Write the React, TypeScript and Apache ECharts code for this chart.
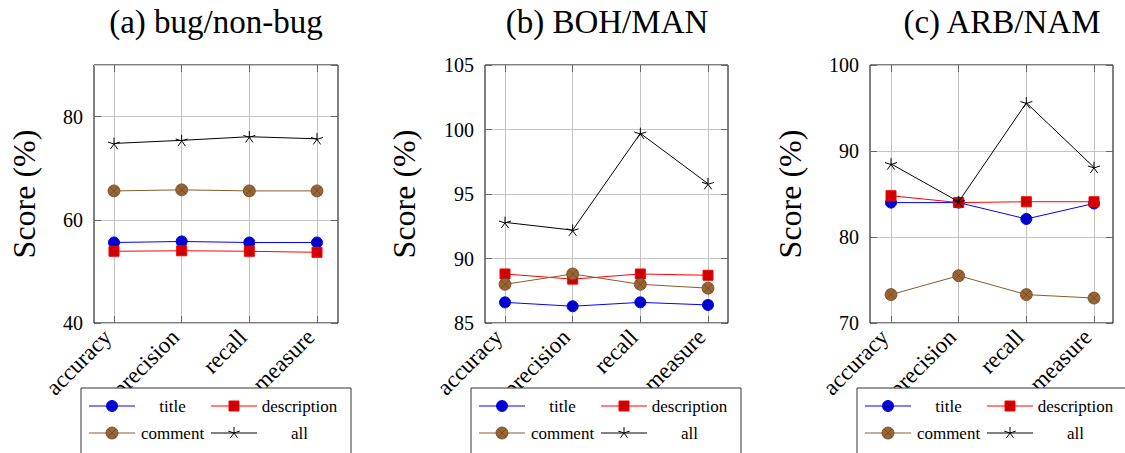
import { useEffect, useRef } from 'react';
import * as echarts from 'echarts';

// Shared categories and series names
const categories = ['accuracy', 'precision', 'recall', 'F-measure'];
const seriesNames = ['title', 'description', 'comment', 'all'];
const panelTitles = ['(a) bug/non-bug', '(b) BOH/MAN', '(c) ARB/NAM'];
const yAxisName = 'Score (%)';

// (a) bug/non-bug
const bugTitle = [55.6, 55.8, 55.6, 55.6];
const bugDescription = [53.9, 54.0, 53.9, 53.7];
const bugComment = [65.6, 65.8, 65.6, 65.6];
const bugAll = [74.8, 75.4, 76.1, 75.7];

// (b) BOH/MAN
const bohTitle = [86.6, 86.3, 86.6, 86.4];
const bohDescription = [88.8, 88.4, 88.8, 88.7];
const bohComment = [88.0, 88.8, 88.0, 87.7];
const bohAll = [92.8, 92.2, 99.7, 95.8];

// (c) ARB/NAM
const arbTitle = [84.0, 84.0, 82.1, 83.9];
const arbDescription = [84.8, 84.0, 84.1, 84.1];
const arbComment = [73.3, 75.5, 73.3, 72.9];
const arbAll = [88.5, 84.1, 95.6, 88.1];

// Y axis ranges per panel
const yMins = [40, 85, 70];
const yMaxs = [90, 105, 100];
const yIntervals = [20, 5, 10];

const panelData = [
  [bugTitle, bugDescription, bugComment, bugAll],
  [bohTitle, bohDescription, bohComment, bohAll],
  [arbTitle, arbDescription, arbComment, arbAll],
];

// ---- layout and styling ----
const FONT = 'Liberation Serif, serif';
const GRID_COLOR = '#c4c4c4';
const TICK_COLOR = '#666';
const TOP = 65;
const HEIGHT = 258;

const frames = [
  { left: 94, width: 244, catLeft: 114, catWidth: 203, titleX: 216, nameX: 24, legendX: 81 },
  { left: 485, width: 243, catLeft: 505, catWidth: 203, titleX: 607, nameX: 404, legendX: 471 },
  { left: 870, width: 243, catLeft: 891, catWidth: 203, titleX: 1002, nameX: 790, legendX: 857 },
];

const OTIMES =
  'path://M10,0A10,10,0,1,1,10,20A10,10,0,1,1,10,0ZM2.93,2.93L17.07,17.07M17.07,2.93L2.93,17.07';
const STAR =
  'path://M0,-10L0,0M9.51,-3.09L0,0M5.88,8.09L0,0M-5.88,8.09L0,0M-9.51,-3.09L0,0';

const seriesStyles = [
  { line: '#0000ff', fill: '#0000cc', border: '#0000ff', symbol: 'circle', size: 11 },
  { line: '#ff0000', fill: '#cc0000', border: '#ff0000', symbol: 'rect', size: 10 },
  { line: '#8a5a2c', fill: '#996633', border: '#6e4520', symbol: OTIMES, size: 12 },
  { line: '#000000', fill: '#000000', border: '#000000', symbol: STAR, size: 12 },
];

function legendMarker(kind: number, cx: number, cy: number): any[] {
  const s = seriesStyles[kind];
  const z = 100;
  if (kind === 0) {
    return [{ type: 'circle', z, shape: { cx, cy, r: 5.5 }, style: { fill: s.fill, stroke: s.border, lineWidth: 1 } }];
  }
  if (kind === 1) {
    return [{ type: 'rect', z, shape: { x: cx - 5, y: cy - 5, width: 10, height: 10 }, style: { fill: s.fill, stroke: s.border, lineWidth: 1 } }];
  }
  if (kind === 2) {
    const d = 4.2;
    return [
      { type: 'circle', z, shape: { cx, cy, r: 6 }, style: { fill: s.fill, stroke: s.border, lineWidth: 0.8 } },
      { type: 'line', z: z + 1, shape: { x1: cx - d, y1: cy - d, x2: cx + d, y2: cy + d }, style: { stroke: s.border, lineWidth: 0.8 } },
      { type: 'line', z: z + 1, shape: { x1: cx + d, y1: cy - d, x2: cx - d, y2: cy + d }, style: { stroke: s.border, lineWidth: 0.8 } },
    ];
  }
  const r = 6;
  const out: any[] = [];
  for (let k = 0; k < 5; k++) {
    const a = -Math.PI / 2 + (k * 2 * Math.PI) / 5;
    out.push({
      type: 'line',
      z: z + 1,
      shape: { x1: cx, y1: cy, x2: cx + r * Math.cos(a), y2: cy + r * Math.sin(a) },
      style: { stroke: '#000', lineWidth: 1 },
    });
  }
  return out;
}

function buildOption() {
  const grid: any[] = [];
  const xAxis: any[] = [];
  const yAxis: any[] = [];
  const series: any[] = [];
  const graphic: any[] = [];

  panelData.forEach((values, i) => {
    const f = frames[i];
    const min = yMins[i];
    const max = yMaxs[i];
    const interval = yIntervals[i];
    const tick = { show: true, inside: true, length: 7, lineStyle: { color: TICK_COLOR, width: 1 } };

    // frame grid: border, y labels, horizontal grid lines
    const gA = grid.length;
    grid.push({
      left: f.left, top: TOP, width: f.width, height: HEIGHT,
      show: true, borderColor: '#000', borderWidth: 1, backgroundColor: 'transparent',
    });
    // data grid: categories inset from the frame
    const gB = grid.length;
    grid.push({ left: f.catLeft, top: TOP, width: f.catWidth, height: HEIGHT });

    xAxis.push({ gridIndex: gA, type: 'value', show: false, min: 0, max: 1 });
    const xB = xAxis.length;
    xAxis.push({
      gridIndex: gB, type: 'category', position: 'bottom', data: categories, boundaryGap: false,
      axisLine: { show: false },
      axisTick: tick,
      axisLabel: {
        interval: 0, rotate: 45, margin: 4, padding: [0, 9, 0, 0],
        fontSize: 23, fontFamily: FONT, color: '#000',
      },
      splitLine: { show: true, lineStyle: { color: GRID_COLOR, width: 1 } },
    });
    xAxis.push({
      gridIndex: gB, type: 'category', position: 'top', data: categories, boundaryGap: false,
      axisLine: { show: false }, axisTick: tick, axisLabel: { show: false }, splitLine: { show: false },
    });

    yAxis.push({
      gridIndex: gA, type: 'value', position: 'left', min, max, interval,
      axisLine: { show: false },
      axisTick: tick,
      axisLabel: {
        fontSize: 20, fontFamily: FONT, color: '#000', margin: 11,
        showMaxLabel: (max - min) % interval === 0,
      },
      splitLine: { show: true, lineStyle: { color: GRID_COLOR, width: 1 } },
    });
    yAxis.push({
      gridIndex: gA, type: 'value', position: 'right', min, max, interval,
      axisLine: { show: false }, axisTick: tick, axisLabel: { show: false }, splitLine: { show: false },
    });
    const yB = yAxis.length;
    yAxis.push({ gridIndex: gB, type: 'value', min, max, show: false });

    values.forEach((data, k) => {
      const s = seriesStyles[k];
      series.push({
        type: 'line',
        name: seriesNames[k],
        xAxisIndex: xB,
        yAxisIndex: yB,
        data,
        symbol: s.symbol,
        symbolSize: s.size,
        symbolKeepAspect: true,
        showAllSymbol: true,
        silent: true,
        lineStyle: { color: s.line, width: 1 },
        itemStyle: { color: s.fill, borderColor: s.border, borderWidth: k === 2 ? 0.8 : 1 },
        emphasis: { disabled: true },
        z: 3 + k,
      });
    });

    // panel title
    graphic.push({
      type: 'text', x: f.titleX, y: 22, z: 100,
      style: { text: panelTitles[i], fontSize: 33, fontFamily: FONT, fill: '#000', align: 'center', verticalAlign: 'middle' },
    });
    // y axis name
    graphic.push({
      type: 'text', x: f.nameX, y: TOP + HEIGHT / 2, rotation: Math.PI / 2, z: 100,
      style: { text: yAxisName, fontSize: 32, fontFamily: FONT, fill: '#000', align: 'center', verticalAlign: 'middle' },
    });

    // legend box
    const L = f.legendX;
    const T = 388;
    graphic.push({
      type: 'rect', z: 99,
      shape: { x: L, y: T, width: 270, height: 80 },
      style: { fill: '#fff', stroke: '#333', lineWidth: 1 },
    });
    seriesNames.forEach((name, k) => {
      const col = k % 2;
      const row = Math.floor(k / 2);
      const x0 = L + (col === 0 ? 8 : 130);
      const cy = T + (row === 0 ? 18 : 45);
      graphic.push({
        type: 'line', z: 100,
        shape: { x1: x0, y1: cy, x2: x0 + 46, y2: cy },
        style: { stroke: seriesStyles[k].line, lineWidth: 1 },
      });
      graphic.push(...legendMarker(k, x0 + 23, cy));
      graphic.push({
        type: 'text', z: 100,
        x: L + (col === 0 ? 91.5 : 218.5), y: cy,
        style: { text: name, fontSize: 17, fontFamily: FONT, fill: '#000', align: 'center', verticalAlign: 'middle' },
      });
    });
  });

  return {
    animation: false,
    backgroundColor: '#fff',
    textStyle: { fontFamily: FONT },
    grid,
    xAxis,
    yAxis,
    series,
    graphic,
  };
}

export default function App() {
  const ref = useRef<HTMLDivElement>(null);
  useEffect(() => {
    if (!ref.current) return;
    const chart = echarts.init(ref.current, undefined, { renderer: 'svg' });
    chart.setOption(buildOption());
    return () => chart.dispose();
  }, []);
  return (
    <div
      ref={ref}
      style={{ position: 'absolute', left: 0, top: 0, width: 1125, height: 453, background: '#fff' }}
    />
  );
}
